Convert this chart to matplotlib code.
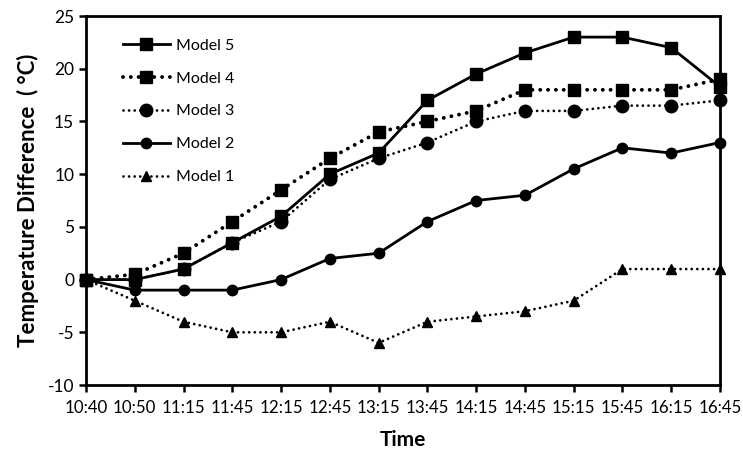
import numpy as np
import matplotlib.pyplot as plt

times = ["10:40", "10:50", "11:15", "11:45", "12:15", "12:45", "13:15",
         "13:45", "14:15", "14:45", "15:15", "15:45", "16:15", "16:45"]
model5 = [0, 0, 1, 3.5, 6, 10, 12, 17, 19.5, 21.5, 23, 23, 22, 18.3]
model4 = [0, 0.5, 2.5, 5.5, 8.5, 11.5, 14, 15, 16, 18, 18, 18, 18, 19]
model3 = [0, 0, 1, 3.5, 5.5, 9.5, 11.5, 13, 15, 16, 16, 16.5, 16.5, 17]
model2 = [0, -1, -1, -1, 0, 2, 2.5, 5.5, 7.5, 8, 10.5, 12.5, 12, 13]
model1 = [0, -2, -4, -5, -5, -4, -6, -4, -3.5, -3, -2, 1, 1, 1]

plt.rcParams['font.family'] = ['Lato', 'DejaVu Sans']
plt.rcParams['axes.unicode_minus'] = False

fig = plt.figure(figsize=(7.43, 4.55), dpi=100)
ax = fig.add_axes([0.1157, 0.1538, 0.8533, 0.8110])
x = np.arange(len(times))

# round dots
dots = (0, (0.01, 2.0))
kw = dict(color='black', clip_on=False, dash_capstyle='round')
ax.plot(x, model5, '-', lw=2, marker='s', ms=9, label='Model 5', zorder=5, **kw)
ax.plot(x, model4, linestyle=dots, lw=2.8, marker='s', ms=9, label='Model 4', zorder=4, **kw)
ax.plot(x, model3, linestyle=dots, lw=2.0, marker='o', ms=9, label='Model 3', zorder=3, **kw)
ax.plot(x, model2, '-', lw=2, marker='o', ms=7.5, label='Model 2', zorder=3, **kw)
ax.plot(x, model1, linestyle=dots, lw=2.0, marker='^', ms=7.5, label='Model 1', zorder=3, **kw)

ax.set_xlim(0, len(times) - 1)
ax.set_ylim(-10, 25)
ax.set_yticks(np.arange(-10, 26, 5))
ax.set_xticks(x)
ax.set_xticklabels(times)
ax.tick_params(axis='both', direction='out', width=1.8, length=5, labelsize=12.5)
ax.tick_params(axis='x', labelsize=12.2, pad=6)
for s in ax.spines.values():
    s.set_linewidth(2)

ax.set_xlabel("Time", fontsize=15, fontweight='bold', labelpad=10)
ax.set_ylabel("Temperature Difference  ( °C)", fontsize=16, fontweight='bold', labelpad=6)

ax.legend(loc='upper left', frameon=False, fontsize=11.5, handlelength=3,
          labelspacing=1.17, handletextpad=0.35, bbox_to_anchor=(0.035, 0.978))

plt.savefig("out.png", dpi=100)
